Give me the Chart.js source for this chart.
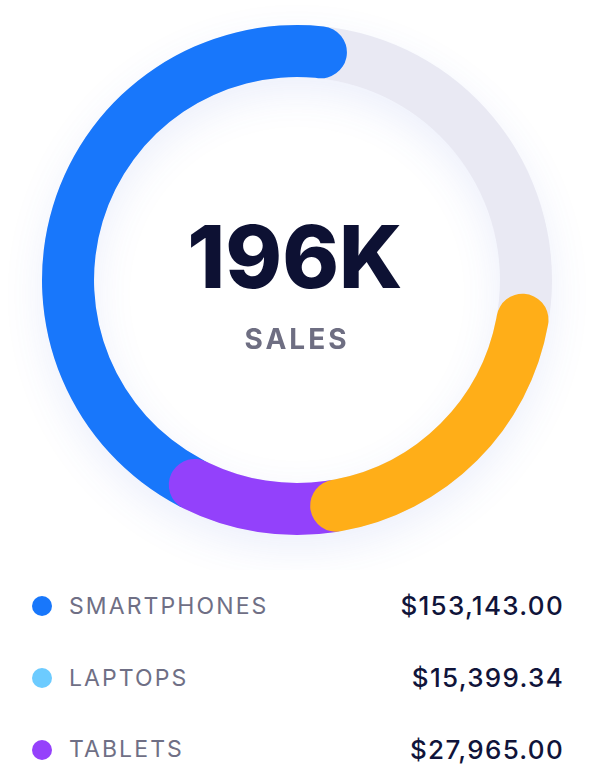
<!DOCTYPE html>
<html>
<head>
<meta charset="utf-8">
<script src="https://cdn.jsdelivr.net/npm/chart.js@4/dist/chart.umd.min.js"></script>
<style>
  html, body { margin: 0; padding: 0; background: #ffffff; }
  body { width: 592px; height: 768px; position: relative; overflow: hidden; font-family: 'Inter', 'Noto Sans', sans-serif; }
  #chartBox { position: absolute; left: 0; top: 0; width: 592px; height: 570px; }
  .center { position: absolute; left: 0; width: 592px; text-align: center; white-space: nowrap; }
  #total { top: 214px; font-size: 86px; line-height: 86px; font-weight: 800; color: #0d1133; letter-spacing: 0px; left: -1px; }
  #caption { top: 325px; font-size: 28px; line-height: 28px; font-weight: 700; color: #6e6e82; letter-spacing: 3px; left: 1px; }
  #legend { position: absolute; left: 0; top: 571px; width: 592px; }
  .row { position: relative; height: 71.8px; display: flex; align-items: center; }
  .dot { position: absolute; left: 32px; width: 20px; height: 20px; border-radius: 50%; top: 50%; margin-top: -10.5px; }
  .lab { position: absolute; left: 69px; font-size: 23px; line-height: 23px; color: #6f6f85; letter-spacing: 2.1px; top: 50%; margin-top: -12px; }
  .val { position: absolute; right: 28px; font-size: 26px; line-height: 26px; font-weight: 500; color: #10143a; letter-spacing: 1.3px; top: 50%; margin-top: -13.5px; }
</style>
</head>
<body>
<div id="chartBox"><canvas id="c"></canvas></div>
<div id="total" class="center"></div>
<div id="caption" class="center"></div>
<div id="legend"></div>
<script>
// ---- data ----
const categories = ['SMARTPHONES', 'LAPTOPS', 'TABLETS'];
const salesValues = [153143.00, 15399.34, 27965.00];
const totalLabel = '196K';
const centerCaption = 'SALES';
// visible ring arcs, in percent of the full circle, going counter-clockwise from the blue cap near the top
const ringArcNames = ['Smartphones', 'Tablets', 'Amber'];
const ringArcPct = [44.3, 10.1, 23.1];

// ---- styles ----
const legendColors = ['#1877fb', '#6ccbff', '#9541fb'];
const ringColors = ['#1877fb', '#9341fb', '#ffae18'];
const trackColor = '#e9e9f3';
const startDeg = 12.5;      // clockwise end of the first arc, degrees from top
const tuck = 12;            // hidden overlap under the next arc, degrees
const cutoutFrac = 0.796;

// build arcs (each arc's clockwise end is the visible cap, its other end tucks under the next arc)
const arcs = [];
let end = startDeg;
ringArcPct.forEach((p, i) => {
  const sweep = p * 3.6;
  const visStart = end - sweep;
  const ext = i < ringArcPct.length - 1 ? tuck : 0;
  arcs.push({ label: ringArcNames[i], rotation: visStart - ext, circumference: sweep + ext, color: ringColors[i], value: p });
  end = visStart;
});

// datasets: first is drawn on top, track last (drawn underneath)
const datasets = arcs.slice().reverse().map(a => ({
  label: a.label,
  data: [a.value],
  rotation: a.rotation,
  circumference: a.circumference,
  backgroundColor: a.color,
  borderWidth: 0,
  borderRadius: 40,
  clip: false
}));
datasets.push({
  label: 'track',
  data: [100],
  rotation: 0,
  circumference: 360,
  backgroundColor: trackColor,
  borderWidth: 0,
  borderRadius: 0,
  clip: false
});
const trackIndex = datasets.length - 1;

const sameRing = {
  id: 'sameRing',
  afterDatasetsUpdate(chart) {
    const outer = chart.getDatasetMeta(0).controller.outerRadius;
    const inner = outer * cutoutFrac;
    chart.data.datasets.forEach((d, i) => {
      chart.getDatasetMeta(i).data.forEach(el => { el.outerRadius = outer; el.innerRadius = inner; });
    });
  },
  beforeDatasetDraw(chart, args) {
    if (args.index === trackIndex) {
      const ctx = chart.ctx;
      ctx.save();
      ctx.shadowColor = 'rgba(70, 100, 220, 0.10)';
      ctx.shadowBlur = 40;
      ctx.shadowOffsetY = 14;
    }
  },
  afterDatasetDraw(chart, args) {
    if (args.index === trackIndex) chart.ctx.restore();
  }
};

new Chart(document.getElementById('c'), {
  type: 'doughnut',
  data: { labels: [''], datasets },
  options: {
    responsive: true,
    maintainAspectRatio: false,
    animation: false,
    events: [],
    cutout: (cutoutFrac * 100) + '%',
    layout: { padding: { left: 42, right: 40, top: 25, bottom: 35 } },
    plugins: { legend: { display: false }, tooltip: { enabled: false } }
  },
  plugins: [sameRing]
});

document.getElementById('total').textContent = totalLabel;
document.getElementById('caption').textContent = centerCaption;

const fmt = new Intl.NumberFormat('en-US', { style: 'currency', currency: 'USD', minimumFractionDigits: 2 });
const legend = document.getElementById('legend');
categories.forEach((c, i) => {
  const row = document.createElement('div');
  row.className = 'row';
  row.innerHTML = '<span class="dot" style="background:' + legendColors[i] + '"></span>' +
    '<span class="lab">' + c + '</span>' +
    '<span class="val">' + fmt.format(salesValues[i]) + '</span>';
  legend.appendChild(row);
});
</script>
</body>
</html>
